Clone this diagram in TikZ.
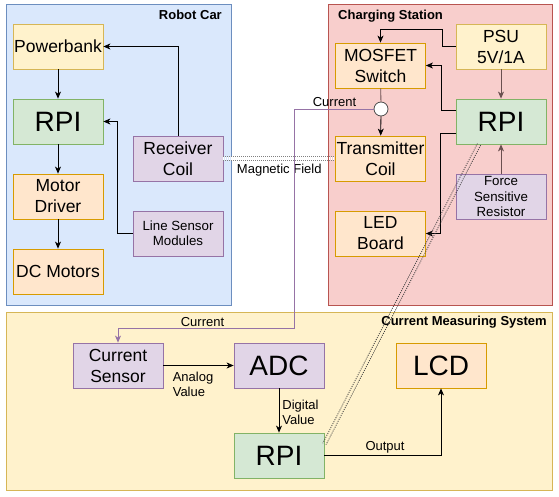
\documentclass[tikz,border=0pt]{standalone}
\usepackage{fontspec}
\setmainfont{Liberation Sans}
\usepackage{tikz}
\usetikzlibrary{arrows.meta}
\definecolor{carfill}{HTML}{DAE8FC}
\definecolor{carline}{HTML}{6C8EBF}
\definecolor{stafill}{HTML}{F8CECC}
\definecolor{staline}{HTML}{B85450}
\definecolor{yelfill}{HTML}{FFF2CC}
\definecolor{yelline}{HTML}{D6B656}
\definecolor{grnfill}{HTML}{D5E8D4}
\definecolor{grnline}{HTML}{82B366}
\definecolor{orgfill}{HTML}{FFE6CC}
\definecolor{orgline}{HTML}{D79B00}
\definecolor{purfill}{HTML}{E1D5E7}
\definecolor{purline}{HTML}{9673A6}
\definecolor{brnline}{HTML}{6B5050}
\tikzset{
	blk/.style={rectangle, minimum width=90pt, minimum height=45pt, inner sep=1pt, align=center, line width=0.8pt, font=\fontsize{17.5}{21}\selectfont},
	yelbox/.style={blk, fill=yelfill, draw=yelline},
	grnbox/.style={blk, fill=grnfill, draw=grnline},
	orgbox/.style={blk, fill=orgfill, draw=orgline},
	purbox/.style={blk, fill=purfill, draw=purline},
	bigtxt/.style={font=\fontsize{28}{30}\selectfont},
	smalltxt/.style={font=\fontsize{13.3}{15.3}\selectfont},
	lbl/.style={font=\fontsize{13}{15}\selectfont, inner sep=1pt, align=left},
	ttl/.style={font=\fontsize{13}{15}\selectfont\bfseries, inner sep=2pt},
	arr/.style={-{Stealth[length=7pt,width=6pt,inset=2pt]}, line width=0.8pt},
	curline/.style={arr, draw=purline},
	magfield/.style={draw=gray, line width=0.8pt, double=white, double distance=3.2pt, dash pattern=on 1pt off 1pt},
	linkdots/.style={draw=black!75, line width=0.8pt, dash pattern=on 1pt off 1.2pt},
}
\begin{document}
\begin{tikzpicture}[x=1pt,y=-1pt]
		\useasboundingbox (0,0) rectangle (559,497);
		
		% the three sub-systems
		\draw[fill=carfill, draw=carline, line width=1pt] (6,5) rectangle (231,305);
		\draw[fill=stafill, draw=staline, line width=1pt] (328,5) rectangle (552,305);
		\draw[fill=yelfill, draw=yelline, line width=1pt] (6,312) rectangle (552,490);
		\node[ttl, anchor=base east] (tcar) at (224,19.5) {Robot Car};
		\node[ttl, anchor=base west] (tsta) at (336,19.5) {Charging Station};
		\node[ttl, anchor=base east] (tcms) at (549,325.5) {Current Measuring System};
		
		% robot car
		\node[yelbox] (pb) at (58,46.5) {Powerbank};
		\node[grnbox, bigtxt] (rpicar) at (58,121.5) {RPI};
		\node[orgbox] (mdrv) at (58,196.5) {Motor\\Driver};
		\node[orgbox] (dcm) at (58,271.5) {DC Motors};
		\node[purbox] (rcoil) at (178,158.5) {Receiver\\Coil};
		\node[purbox, smalltxt] (lsens) at (178,233.5) {Line Sensor\\Modules};
		
		\draw[arr] (pb) -- (rpicar);
		\draw[arr] (rpicar) -- (mdrv);
		\draw[arr] (mdrv) -- (dcm);
		\draw[arr] (rcoil.north) |- (pb.east);
		\draw[arr] (lsens.west) -- ++(-15,0) |- (rpicar.east);
		
		% charging station
		\node[orgbox] (mosfet) at (380.5,65.5) {MOSFET\\Switch};
		\node[yelbox] (psu) at (501,46.5) {PSU\\5V/1A};
		\node[grnbox, bigtxt] (rpista) at (501,121.5) {RPI};
		\node[orgbox] (tcoil) at (380.5,158.5) {Transmitter\\Coil};
		\node[purbox, smalltxt] (fsr) at (501,196.5) {Force\\Sensitive\\Resistor};
		\node[orgbox] (led) at (380.5,233.5) {LED\\Board};
		\node[circle, draw=black!70, fill=white, line width=0.8pt, minimum size=14pt, inner sep=0pt] (junc) at (381,109) {};
		\coordinate (psuknee) at (442,29);
		
		\draw[arr] (psu.west) -| (psuknee) -| (mosfet.north);
		\draw[arr, draw=brnline] (psu) -- (rpista);
		\draw[arr] ([yshift=11.5pt]rpista.west) -- ++(-14,0) |- (mosfet.east);
		\draw[arr] ([yshift=-11.5pt]rpista.west) -- ++(-15,0) |- (led.east);
		\draw[arr, draw=brnline] (fsr) -- (rpista);
		\draw[line width=0.8pt, draw=brnline] (mosfet) -- (junc);
		\draw[arr] (junc) -- (tcoil);
		
		% wireless link
		\draw[magfield] (rcoil.east) -- node[lbl, below, yshift=-4.5pt] {Magnetic Field} (tcoil.west);
		
		% current measuring system
		\node[purbox] (csens) at (118,365.5) {Current\\Sensor};
		\node[purbox, bigtxt] (adc) at (279,365.5) {ADC};
		\node[orgbox, bigtxt] (lcd) at (441,365.5) {LCD};
		\node[grnbox, bigtxt] (rpicms) at (279,455.5) {RPI};
		\coordinate (curknee) at (294,328);
		
		\draw[curline] (junc.west) node[lbl, anchor=south east, xshift=-16pt, yshift=1pt] {Current} -| (curknee) -| node[lbl, pos=0.26, above] {Current} (csens.north);
		\draw[arr] (csens) -- node[lbl, pos=0, anchor=north west, xshift=8pt, yshift=-5pt] {Analog\\Value} (adc);
		\draw[arr] (adc) -- node[lbl, pos=0, anchor=north west, xshift=2pt, yshift=-10pt] {Digital\\Value} (rpicms);
		\draw[arr] (rpicms.east) -| node[lbl, pos=0.26, above, yshift=1pt] {Output} (lcd.south);
		
		% link between the two RPIs
		\draw[linkdots, transform canvas={shift={(1.6pt,-0.8pt)}}] ([xshift=-22pt]rpista.south) -- ([yshift=11.5pt]rpicms.east);
		\draw[linkdots, transform canvas={shift={(-1.6pt,0.8pt)}}] ([xshift=-22pt]rpista.south) -- ([yshift=11.5pt]rpicms.east);
		
\end{tikzpicture}
\end{document}
